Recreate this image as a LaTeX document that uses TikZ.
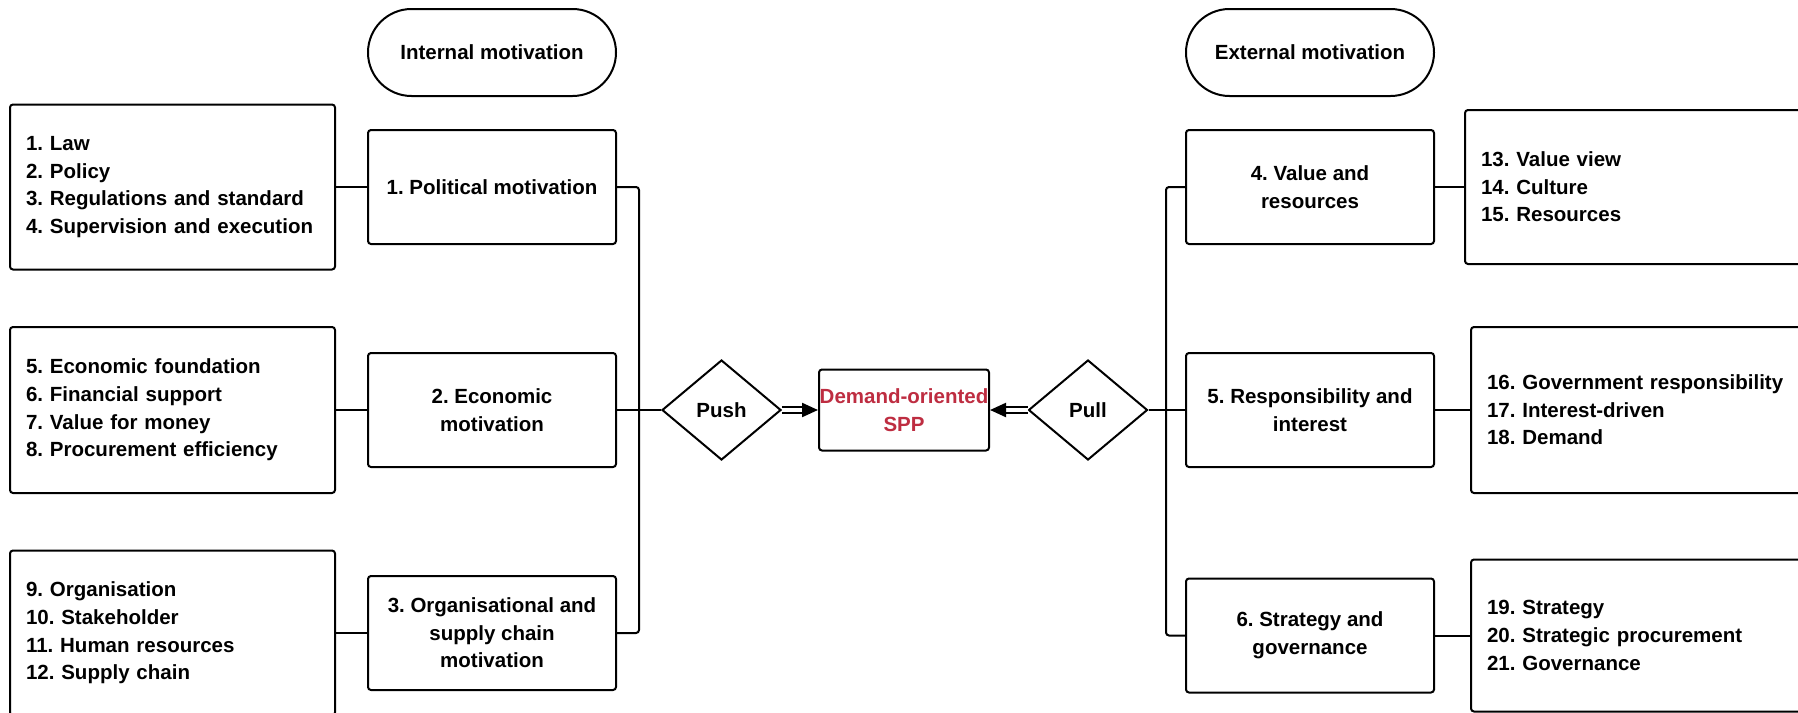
\documentclass[tikz,border=0pt]{standalone}
\usepackage{fontspec}
\setmainfont{Liberation Sans}
\usepackage{xcolor}
\usetikzlibrary{shapes.geometric,arrows.meta}
\definecolor{sppred}{RGB}{190,45,65}

\begin{document}
\begin{tikzpicture}[x=0.5pt,y=-0.5pt]
        \tikzset{cell/.append style={rectangle,
                    draw=black, fill=white, line width=1pt,
                    rounded corners=1.5pt,
                    font=\fontsize{10.25pt}{13.8pt}\selectfont\bfseries\frenchspacing}}
        \tikzset{motivebox/.append style={cell,
                    minimum width=124pt, minimum height=57pt,
                    align=center, inner sep=2pt}}
        \tikzset{listbox/.append style={cell,
                    align=left, inner xsep=8pt}}
        \tikzset{titlebox/.append style={cell,
                    rounded corners=21.75pt,
                    minimum width=124pt, minimum height=43.5pt}}
        \tikzset{forcebox/.append style={diamond,
                    draw=black, fill=white, line width=1pt,
                    minimum width=59.5pt, minimum height=50pt, inner sep=0pt,
                    font=\fontsize{10.25pt}{13.8pt}\selectfont\bfseries}}
        \tikzset{wire/.append style={line width=1pt}}
        \tikzset{thrust/.append style={line width=1.1pt, double=white,
                    double distance=2.2pt,
                    -{Triangle[length=8pt,width=7pt]}}}
        \useasboundingbox (0,0) rectangle (1798,712);

        \node[titlebox] (intm) at (492,52.5) {Internal motivation};
        \node[titlebox] (extm) at (1310,52.5) {External motivation};

        \node[listbox, text width=146.5pt, minimum height=82.5pt] (l1) at (172.5,187)
            {1. Law\\2. Policy\\3. Regulations and standard\\4. Supervision and execution};
        \node[listbox, text width=146.5pt, minimum height=83pt] (l2) at (172.5,410)
            {5. Economic foundation\\6. Financial support\\7. Value for money\\8. Procurement efficiency};
        \node[listbox, text width=146.5pt, minimum height=82.5pt] (l3) at (172.5,633)
            {9. Organisation\\10. Stakeholder\\11. Human resources\\12. Supply chain};

        \node[motivebox] (pol) at (492,187) {1. Political motivation};
        \node[motivebox] (eco) at (492,410) {2. Economic\\motivation};
        \node[motivebox] (org) at (492,633) {3. Organisational and\\supply chain\\motivation};

        \node[forcebox] (push) at (721.5,410) {Push};
        \node[cell, minimum width=85pt, minimum height=40.5pt, inner sep=0pt,
              align=center, text=sppred] (spp) at (904,410) {Demand-oriented\\SPP};
        \node[forcebox] (pull) at (1088,410) {Pull};

        \node[motivebox] (val) at (1310,187) {4. Value and\\resources};
        \node[motivebox] (resp) at (1310,410) {5. Responsibility and\\interest};
        \node[motivebox] (strat) at (1310,635.5) {6. Strategy and\\governance};

        \node[listbox, text width=156.5pt, minimum height=77pt] (r1) at (1637.5,187)
            {13. Value view\\14. Culture\\15. Resources};
        \node[listbox, text width=153.5pt, minimum height=83pt] (r2) at (1640.5,410)
            {16. Government responsibility\\17. Interest-driven\\18. Demand};
        \node[listbox, text width=153.5pt, minimum height=76pt] (r3) at (1640.5,635.5)
            {19. Strategy\\20. Strategic procurement\\21. Governance};

        \coordinate (ljoin) at (639,410);
        \coordinate (rjoin) at (1166,410);

        \draw[wire] (l1) -- (pol);
        \draw[wire] (l2) -- (eco);
        \draw[wire] (l3) -- (org);
        \draw[wire, rounded corners=1.5pt] (pol.east) -| (ljoin) |- (org.east);
        \draw[wire] (eco) -- (push);
        \draw[thrust] (push) -- (spp);
        \draw[thrust] (pull) -- (spp);
        \draw[wire, rounded corners=1.5pt] (val.west) -| (rjoin) |- (strat.west);
        \draw[wire] (pull) -- (resp);
        \draw[wire] (val) -- (r1);
        \draw[wire] (resp) -- (r2);
        \draw[wire] (strat) -- (r3);
    \end{tikzpicture}
\end{document}
